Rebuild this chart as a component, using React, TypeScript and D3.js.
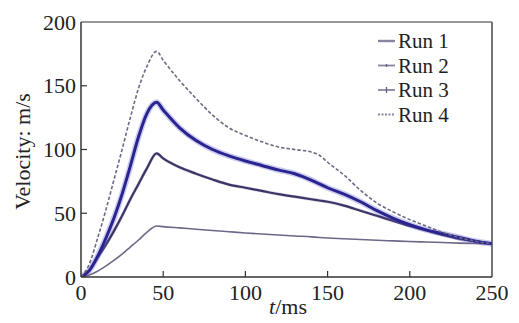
import React from 'react';
import * as d3 from 'd3';

// sample times (ms) shared by all runs
const times = [0, 5, 10, 15, 20, 25, 30, 35, 40, 46, 50, 60, 70, 80, 90, 100, 110, 120, 130, 140, 145, 150, 160, 170, 180, 190, 200, 210, 220, 230, 240, 250];

const run1 = [0, 1.5, 4.5, 8.5, 13, 18, 23.5, 29, 35, 40, 39.5, 38.5, 37.5, 36.5, 35.5, 34.5, 33.7, 33, 32.2, 31.5, 31, 30.6, 30, 29.4, 28.8, 28.3, 27.8, 27.4, 27, 26.6, 26.3, 26];
const run2 = [0, 5, 15, 25, 36, 48, 61, 73, 85, 97, 93, 86, 81, 76.5, 72.5, 70, 67.5, 65, 63, 61, 60, 59, 56, 52, 48, 44, 40, 36.5, 33, 30, 28, 26];
const run3 = [0, 5, 16, 30, 46, 65, 87, 110, 128, 137, 131, 117, 107, 100, 95, 91, 87.5, 84, 81, 76, 73, 70, 65, 59, 52, 46, 41, 37, 34, 31, 28, 26];
const run4 = [0, 10, 30, 52, 76, 100, 125, 148, 165, 177, 170, 154, 140, 127, 117, 111, 106, 102, 100, 98, 95.5, 90, 80, 68, 58, 51, 45, 40, 35, 31, 28, 26];

const seriesNames = ['Run 1', 'Run 2', 'Run 3', 'Run 4'];
const xTicks = [0, 50, 100, 150, 200, 250];
const yTicks = [0, 50, 100, 150, 200];

const W = 519;
const H = 323;
const margin = { top: 22, right: 27, bottom: 46, left: 81 };

const App = () => {
  const x = d3.scaleLinear().domain([0, 250]).range([margin.left, W - margin.right]);
  const y = d3.scaleLinear().domain([0, 200]).range([H - margin.bottom, margin.top]);

  const line = d3.line<number>()
    .x((_, i) => x(times[i]))
    .y(d => y(d))
    .curve(d3.curveMonotoneX);

  // line styles, in the order of seriesNames
  const styles = [
    { color: '#706788', width: 1.6, dash: undefined },
    { color: '#3c3466', width: 2.2, dash: undefined },
    { color: '#2a2490', width: 3, dash: undefined },
    { color: '#6e6a85', width: 1.6, dash: '3.5 2' },
  ];
  const data = [run1, run2, run3, run4];

  const x0 = x.range()[0];
  const x1 = x.range()[1];
  const yb = y.range()[0];
  const yt = y.range()[1];

  return (
    <svg width={W} height={H} style={{ position: 'absolute', left: 0, top: 0, background: '#fff' }}>
      <style>{'text { font-family: "Liberation Serif"; font-size: 22px; fill: #222; }'}</style>
      <defs>
        <clipPath id="plot">
          <rect x={x0} y={yt} width={x1 - x0} height={yb - yt} />
        </clipPath>
      </defs>

      {/* frame */}
      <line x1={x0} x2={x1} y1={yt} y2={yt} stroke="#333" strokeWidth={1.2} />
      <line x1={x1} x2={x1} y1={yt} y2={yb} stroke="#666" strokeWidth={1.8} />

      {/* curves */}
      <g clipPath="url(#plot)">
        {data.map((vals, i) => (
          <g key={seriesNames[i]}>
            {i >= 1 && i <= 2 && (
              <path d={line(vals) ?? ''} fill="none" stroke={i === 2 ? '#5a55c8' : '#6a6298'}
                strokeWidth={i === 2 ? 6 : 3.4} opacity={i === 2 ? 0.3 : 0.25} />
            )}
            <path d={line(vals) ?? ''} fill="none" stroke={styles[i].color}
              strokeWidth={styles[i].width} strokeDasharray={styles[i].dash} />
          </g>
        ))}
      </g>

      {/* axes */}
      <line x1={x0} x2={x1} y1={yb} y2={yb} stroke="#333" strokeWidth={1.5} />
      <line x1={x0} x2={x0} y1={yt} y2={yb} stroke="#333" strokeWidth={1.5} />
      {xTicks.map(t => (
        <g key={'x' + t}>
          {t > 0 && t < 250 && <line x1={x(t)} x2={x(t)} y1={yb} y2={yb - 6} stroke="#333" strokeWidth={1.2} />}
          <text x={x(t)} y={300} textAnchor="middle">{t}</text>
        </g>
      ))}
      {yTicks.map(t => (
        <g key={'y' + t}>
          {t > 0 && t < 200 && <line x1={x0} x2={x0 + 6} y1={y(t)} y2={y(t)} stroke="#333" strokeWidth={1.2} />}
          <text x={76} y={y(t)} dy="0.35em" textAnchor="end">{t}</text>
        </g>
      ))}

      {/* axis titles */}
      <text transform={`translate(30, ${(yt + yb) / 2 + 2}) rotate(-90)`} textAnchor="middle">
        Velocity: m/s
      </text>
      <text x={288} y={314} textAnchor="middle">
        <tspan fontStyle="italic">t</tspan>/ms
      </text>

      {/* legend */}
      {seriesNames.map((name, i) => {
        const ly = 41 + i * 24.5;
        return (
          <g key={name}>
            <line x1={378} x2={395} y1={ly} y2={ly} stroke="#8a84a0"
              strokeWidth={i === 0 ? 2.4 : 1.8} strokeDasharray={i === 3 ? '2 1.5' : undefined} />
            {(i === 1 || i === 2) && (
              <line x1={386.5} x2={386.5} y1={ly - (i === 2 ? 3 : 1.5)} y2={ly + (i === 2 ? 3 : 1.5)}
                stroke="#6a6488" strokeWidth={1.4} />
            )}
            <text x={398} y={ly} dy="0.35em" style={{ fontSize: 21 }}>{name}</text>
          </g>
        );
      })}
    </svg>
  );
};

export default App;
